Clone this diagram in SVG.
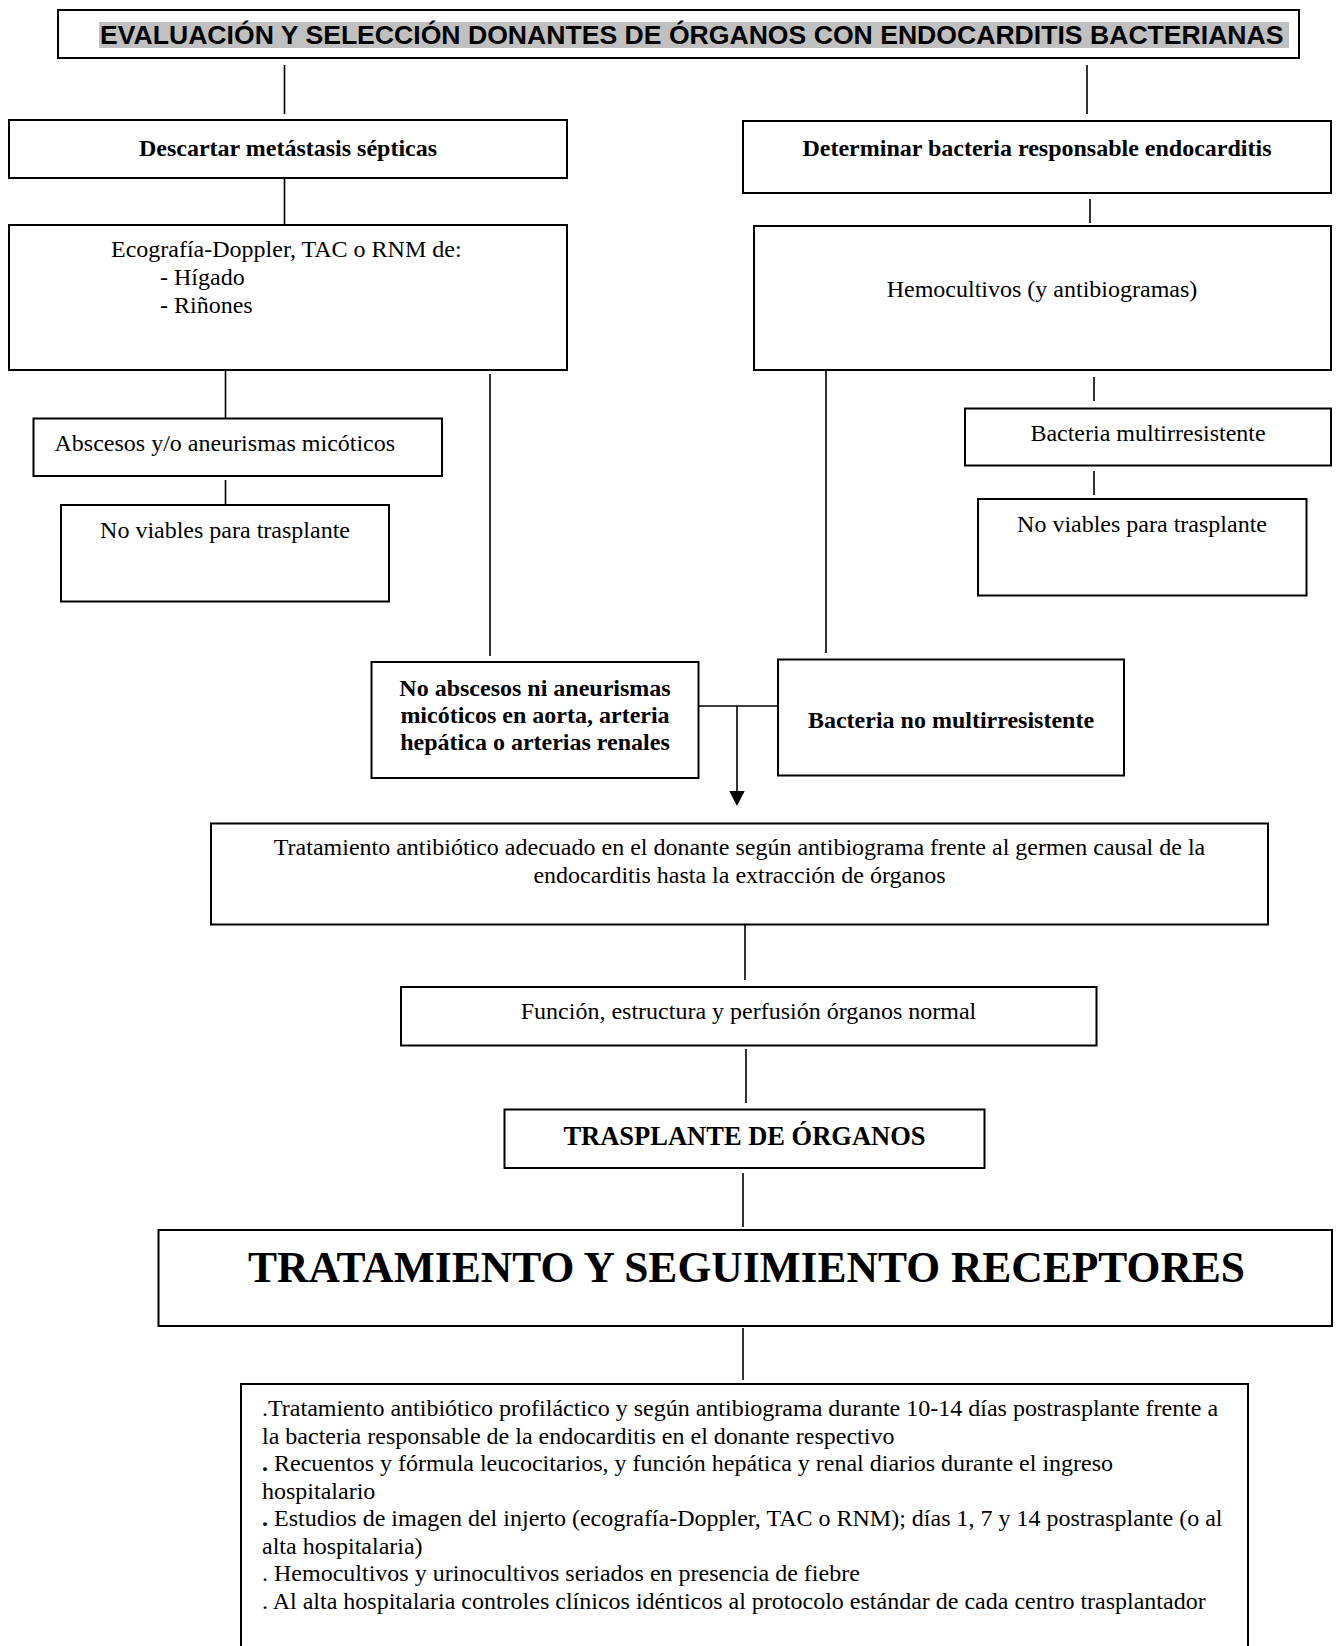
<svg xmlns="http://www.w3.org/2000/svg" width="1336" height="1646" viewBox="0 0 1336 1646">
<style>
.box{fill:#fff;stroke:#000;stroke-width:2}
.ln{stroke:#000;stroke-width:1.6;fill:none}
.t{font-family:"Liberation Serif","Times New Roman",serif;font-size:24px;fill:#000}
.b{font-weight:bold}
.c{text-anchor:middle}
</style>
<rect width="1336" height="1646" fill="#fff"/>
<g id="connectors">
<line class="ln" x1="284.5" y1="65" x2="284.5" y2="114"/>
<line class="ln" x1="1087" y1="65" x2="1087" y2="114"/>
<line class="ln" x1="284.5" y1="178" x2="284.5" y2="225"/>
<line class="ln" x1="1090" y1="199" x2="1090" y2="223"/>
<line class="ln" x1="225.5" y1="370" x2="225.5" y2="418"/>
<line class="ln" x1="225.5" y1="480" x2="225.5" y2="505"/>
<line class="ln" x1="490" y1="374" x2="490" y2="656"/>
<line class="ln" x1="826" y1="370" x2="826" y2="653"/>
<line class="ln" x1="1094" y1="377" x2="1094" y2="401"/>
<line class="ln" x1="1094" y1="471" x2="1094" y2="495"/>
<line class="ln" x1="699" y1="706" x2="778" y2="706"/>
<line class="ln" x1="737" y1="706" x2="737" y2="792"/>
<polygon points="729.3,791 744.7,791 737,806" fill="#000"/>
<line class="ln" x1="745" y1="925" x2="745" y2="980"/>
<line class="ln" x1="746" y1="1049" x2="746" y2="1103"/>
<line class="ln" x1="743" y1="1173" x2="743" y2="1227"/>
<line class="ln" x1="743" y1="1328" x2="743" y2="1380"/>
</g>
<g id="title">
<rect class="box" x="58" y="10" width="1241" height="48"/>
<rect x="99" y="22" width="1190" height="26" fill="#c0c0c0"/>
<text x="100" y="44" font-family="Liberation Sans, Arial, sans-serif" font-size="26.6" font-weight="bold" fill="#000">EVALUACIÓN Y SELECCIÓN DONANTES DE ÓRGANOS CON ENDOCARDITIS BACTERIANAS</text>
</g>
<g id="descartar">
<rect class="box" x="9" y="120" width="558" height="58"/>
<text class="t b c" x="288" y="156">Descartar metástasis sépticas</text>
</g>
<g id="determinar">
<rect class="box" x="743" y="121" width="588" height="72"/>
<text class="t b c" x="1037" y="156">Determinar bacteria responsable endocarditis</text>
</g>
<g id="ecografia">
<rect class="box" x="9" y="225" width="558" height="145"/>
<text class="t" x="111" y="257">Ecografía-Doppler, TAC o RNM de:</text>
<text class="t" x="160" y="285">- Hígado</text>
<text class="t" x="160" y="313">- Riñones</text>
</g>
<g id="hemocultivos">
<rect class="box" x="754" y="226" width="577" height="144"/>
<text class="t c" x="1042" y="297">Hemocultivos (y antibiogramas)</text>
</g>
<g id="abscesos">
<rect class="box" x="33.5" y="418.5" width="408.5" height="57.5"/>
<text class="t" x="54.5" y="451">Abscesos y/o aneurismas micóticos</text>
</g>
<g id="noviables-izq">
<rect class="box" x="61" y="505" width="328" height="96.5"/>
<text class="t c" x="225" y="538">No viables para trasplante</text>
</g>
<g id="multirresistente">
<rect class="box" x="965" y="408.5" width="366" height="57"/>
<text class="t c" x="1148" y="441">Bacteria multirresistente</text>
</g>
<g id="noviables-der">
<rect class="box" x="978" y="499" width="328.5" height="96.5"/>
<text class="t c" x="1142" y="532">No viables para trasplante</text>
</g>
<g id="no-abscesos">
<rect class="box" x="371.5" y="662" width="327" height="116"/>
<text class="t b c" x="535" y="695.5">No abscesos ni aneurismas</text>
<text class="t b c" x="535" y="722.5">micóticos en aorta, arteria</text>
<text class="t b c" x="535" y="749.5">hepática o arterias renales</text>
</g>
<g id="no-multirresistente">
<rect class="box" x="778" y="659.5" width="346" height="116"/>
<text class="t b c" x="951" y="728">Bacteria no multirresistente</text>
</g>
<g id="tratamiento-donante">
<rect class="box" x="211" y="823.5" width="1057" height="101"/>
<text class="t c" x="739.5" y="855">Tratamiento antibiótico adecuado en el donante según antibiograma frente al germen causal de la</text>
<text class="t c" x="739.5" y="882.5">endocarditis hasta la extracción de órganos</text>
</g>
<g id="funcion">
<rect class="box" x="401" y="987" width="695.5" height="58.5"/>
<text class="t c" x="748.5" y="1019">Función, estructura y perfusión órganos normal</text>
</g>
<g id="trasplante">
<rect class="box" x="504.5" y="1109.5" width="480" height="58.5"/>
<text class="t b c" x="744.5" y="1145" style="font-size:26.5px">TRASPLANTE DE ÓRGANOS</text>
</g>
<g id="receptores">
<rect class="box" x="158.5" y="1230" width="1173.5" height="96"/>
<text class="t b c" x="746.5" y="1282" style="font-size:43.5px">TRATAMIENTO Y SEGUIMIENTO RECEPTORES</text>
</g>
<g id="seguimiento">
<rect class="box" x="241" y="1384" width="1007" height="290"/>
<text class="t" x="262" y="1416">.Tratamiento antibiótico profiláctico y según antibiograma durante 10-14 días postrasplante frente a</text>
<text class="t" x="262" y="1443.5">la bacteria responsable de la endocarditis en el donante respectivo</text>
<text class="t" x="262" y="1471"><tspan font-weight="bold">.</tspan> Recuentos y fórmula leucocitarios, y función hepática y renal diarios durante el ingreso</text>
<text class="t" x="262" y="1498.5">hospitalario</text>
<text class="t" x="262" y="1526"><tspan font-weight="bold">.</tspan> Estudios de imagen del injerto (ecografía-Doppler, TAC o RNM); días 1, 7 y 14 postrasplante (o al</text>
<text class="t" x="262" y="1553.5">alta hospitalaria)</text>
<text class="t" x="262" y="1581">. Hemocultivos y urinocultivos seriados en presencia de fiebre</text>
<text class="t" x="262" y="1608.5">. Al alta hospitalaria controles clínicos idénticos al protocolo estándar de cada centro trasplantador</text>
</g>
</svg>
